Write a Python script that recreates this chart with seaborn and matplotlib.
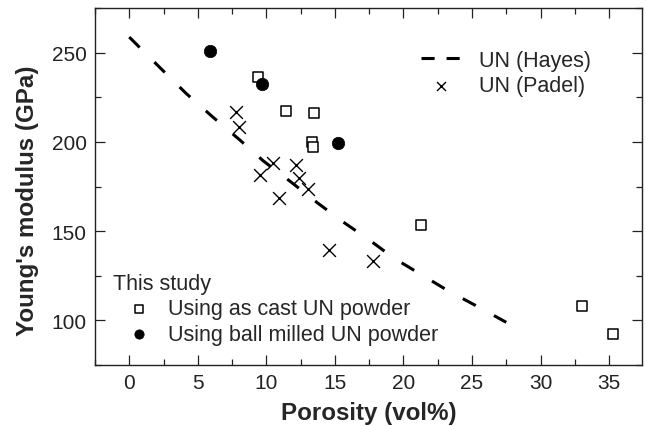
import numpy as np
import pandas as pd
import matplotlib
matplotlib.use("Agg")
import matplotlib.pyplot as plt
import seaborn as sns
from matplotlib.ticker import MultipleLocator
from matplotlib.lines import Line2D

# ---- data ----
hayes_x = [0.0, 2.29, 4.14, 6.08, 8.0, 9.78, 11.85, 13.75, 15.55, 17.5, 19.3, 21.3, 23.3, 25.2, 27.5]
hayes_y = [258.7, 241.2, 227.2, 214.0, 201.5, 189.3, 177.2, 165.7, 155.4, 145.1, 134.9, 125.6, 116.4, 108.6, 98.9]

padel_x = [7.8, 8.0, 9.5, 10.45, 10.9, 12.15, 12.4, 13.05, 14.6, 17.8]
padel_y = [216.5, 208.5, 181.5, 188.0, 168.5, 187.2, 179.5, 173.5, 139.5, 133.5]

cast_x = [9.4, 11.4, 13.5, 13.3, 13.4, 21.3, 33.0, 35.3]
cast_y = [236.2, 217.3, 216.0, 199.8, 197.2, 153.5, 107.9, 92.2]

milled_x = [5.9, 9.7, 15.2]
milled_y = [250.9, 232.6, 199.6]

x_ticks = [0, 5, 10, 15, 20, 25, 30, 35]
y_ticks = [100, 150, 200, 250]

sns.set_style("ticks")
plt.rcParams['font.family'] = ['Liberation Sans', 'DejaVu Sans']

fig = plt.figure(figsize=(6.46, 4.27), dpi=100)
ax = fig.add_axes([95/646, 1-366/427, (642-95)/646, (366-9)/427])

sns.lineplot(x=hayes_x, y=hayes_y, ax=ax, color='black', lw=2.2,
             linestyle=(0, (4.8, 6.8)), label='UN (Hayes)', sort=False)
sns.scatterplot(x=padel_x, y=padel_y, ax=ax, marker='x', s=85, color='black',
                linewidth=1.0, label='UN (Padel)')
sns.scatterplot(x=cast_x, y=cast_y, ax=ax, marker='s', s=58, facecolor='white',
                edgecolor='black', linewidth=1.1, label='Using as cast UN powder')
sns.scatterplot(x=milled_x, y=milled_y, ax=ax, marker='o', s=80, color='black',
                edgecolor='black', linewidth=0.5, label='Using ball milled UN powder')

ax.set_xlim(-2.5, 37.4)
ax.set_ylim(75, 275)
ax.set_xticks(x_ticks)
ax.set_yticks(y_ticks)
ax.xaxis.set_minor_locator(MultipleLocator(2.5))
ax.yaxis.set_minor_locator(MultipleLocator(25))
ax.tick_params(which='both', direction='in', top=True, right=True,
               labelsize=15, width=0.9, color='#222222', labelcolor='#222222')
ax.tick_params(which='major', length=7, pad=6)
ax.tick_params(which='minor', length=4.5)
for s in ax.spines.values():
    s.set_linewidth(1.0)
    s.set_color('#222222')

ax.set_xlabel('Porosity (vol%)', fontsize=17.4, fontweight='bold')
ax.set_ylabel("Young's modulus (GPa)", fontsize=17.4, fontweight='bold')
ax.xaxis.set_label_coords(0.5, (366 - 414) / 357, transform=ax.transAxes)
ax.xaxis.label.set_va('center')
ax.yaxis.set_label_coords((28 - 95) / 547, (366 - 201) / 357, transform=ax.transAxes)
ax.yaxis.label.set_va('center')

handles, labels = ax.get_legend_handles_labels()
hmap = dict(zip(labels, handles))
hayes_handle = Line2D([], [], color='black', lw=2.2, linestyle=(0, (4.3, 3.9)))

leg1 = ax.legend([hayes_handle, hmap['UN (Padel)']], ['UN (Hayes)', 'UN (Padel)'],
                 loc='upper left', bbox_to_anchor=((421 - 95) / 547, (366 - 51) / 357),
                 frameon=False, fontsize=15.5, borderpad=0, borderaxespad=0,
                 handlelength=1.86, handletextpad=0.85, labelspacing=0.2, markerscale=0.7)
ax.add_artist(leg1)

leg2 = ax.legend([hmap['Using as cast UN powder'], hmap['Using ball milled UN powder']],
                 ['Using as cast UN powder', 'Using ball milled UN powder'],
                 title='This study', title_fontsize=15.5, alignment='left',
                 loc='lower left', bbox_to_anchor=((113 - 95) / 547, (366 - 346) / 357),
                 frameon=False, fontsize=15.5, borderpad=0, borderaxespad=0,
                 handlelength=2.4, handletextpad=0.15, labelspacing=0.22, markerscale=0.75)

fig.savefig('out.png', dpi=100)
